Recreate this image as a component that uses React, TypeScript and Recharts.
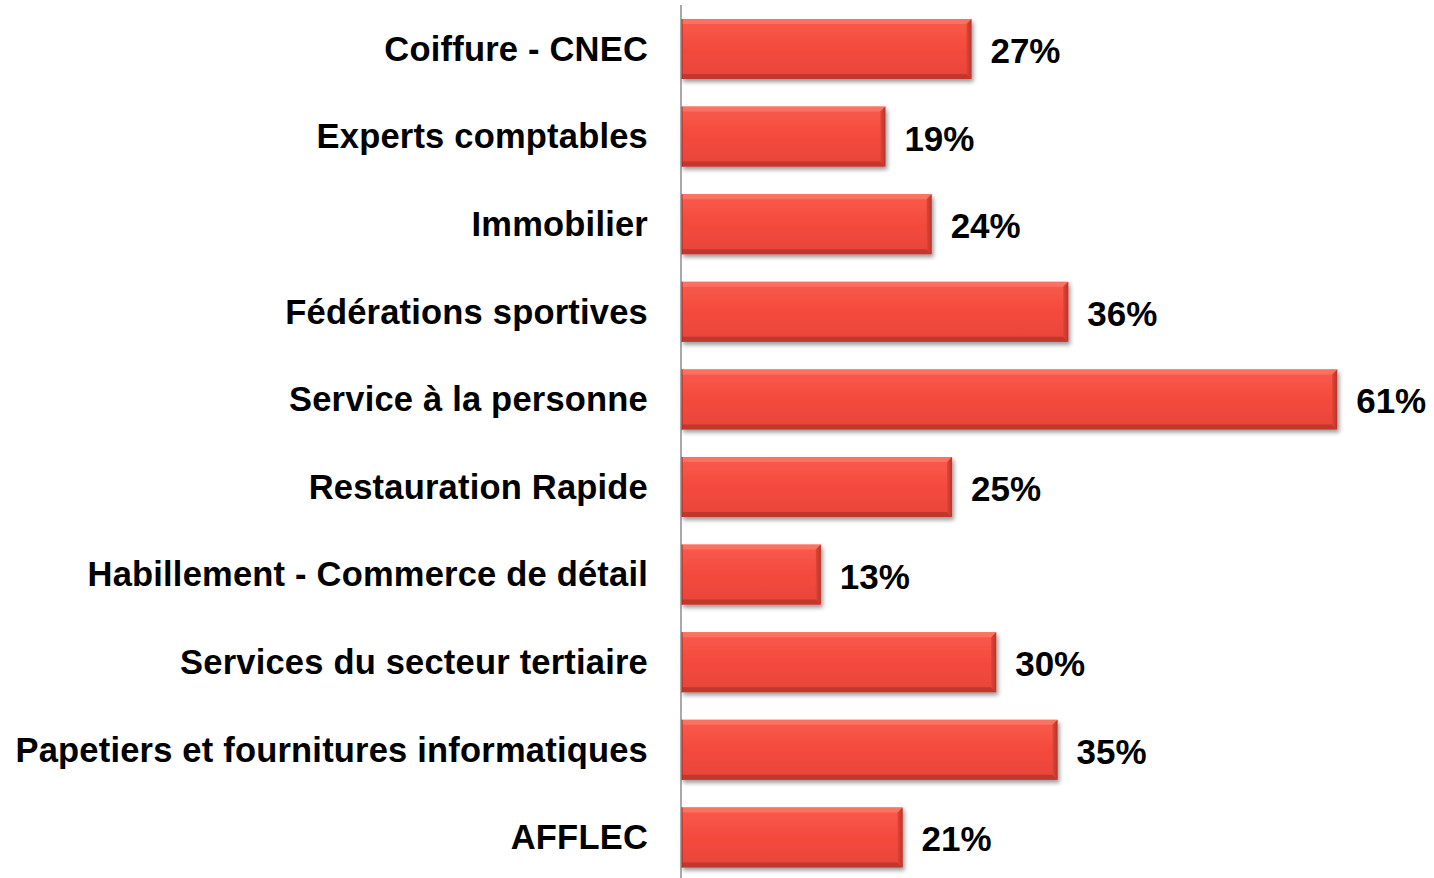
import React from "react";
import { BarChart, Bar, XAxis, YAxis, LabelList } from "recharts";

const categories = [
  "Coiffure - CNEC",
  "Experts comptables",
  "Immobilier",
  "Fédérations sportives",
  "Service à la personne",
  "Restauration Rapide",
  "Habillement - Commerce de détail",
  "Services du secteur tertiaire",
  "Papetiers et fournitures informatiques",
  "AFFLEC",
];
// bar lengths
const values = [27, 19, 23.3, 36, 61, 25.2, 13, 29.3, 35, 20.6];
// percentages printed next to the bars
const labels = ["27%", "19%", "24%", "36%", "61%", "25%", "13%", "30%", "35%", "21%"];

const data = categories.map((c, i) => ({ name: c, value: values[i], label: labels[i] }));

const FONT = "'Liberation Sans', Arial, Helvetica, sans-serif";

const BarShape = (props: any) => {
  const { x, y, width, height } = props;
  const b = 5;
  return (
    <g>
      <defs>
        <linearGradient id="barV" x1="0" y1="0" x2="0" y2="1">
          <stop offset="0" stopColor="#F85B4C" />
          <stop offset="0.5" stopColor="#F44A3D" />
          <stop offset="1" stopColor="#E8443A" />
        </linearGradient>
        <linearGradient id="barR" x1="0" y1="0" x2="1" y2="0">
          <stop offset="0" stopColor="#E04437" />
          <stop offset="1" stopColor="#B8352A" />
        </linearGradient>
        <filter id="barShadow" x="-5%" y="-20%" width="115%" height="150%">
          <feDropShadow dx="2" dy="3" stdDeviation="2.2" floodColor="#000" floodOpacity="0.4" />
        </filter>
      </defs>
      <rect x={x} y={y} width={width} height={height} fill="url(#barV)" filter="url(#barShadow)" />
      <polygon
        points={`${x},${y} ${x + width},${y} ${x + width - b},${y + b} ${x},${y + b}`}
        fill="#FB7868"
        opacity={0.8}
      />
      <polygon
        points={`${x},${y + height - b} ${x + width - b},${y + height - b} ${x + width},${y + height} ${x},${y + height}`}
        fill="#B8352A"
        opacity={0.85}
      />
      <polygon
        points={`${x + width - b},${y + b} ${x + width},${y} ${x + width},${y + height} ${x + width - b},${y + height - b}`}
        fill="url(#barR)"
      />
      <rect x={x} y={y} width={1.5} height={height} fill="#A82A22" />
    </g>
  );
};

const CatTick = (props: any) => {
  const { y, payload } = props;
  return (
    <text
      x={648}
      y={y}
      dy={12}
      textAnchor="end"
      fontFamily={FONT}
      fontWeight="bold"
      fontSize={34.5}
      fill="#000"
      letterSpacing={0.2}
    >
      {payload.value}
    </text>
  );
};

const ValueLabel = (props: any) => {
  const { x, y, width, height, value } = props;
  return (
    <text
      x={x + width + 19}
      y={y + height / 2}
      dy={14}
      textAnchor="start"
      fontFamily={FONT}
      fontWeight="bold"
      fontSize={35}
      fill="#000"
    >
      {value}
    </text>
  );
};

export default function App() {
  return (
    <div
      style={{
        position: "absolute",
        left: 0,
        top: 0,
        width: 1434,
        height: 878,
        overflow: "hidden",
        background: "#fff",
      }}
    >
      <BarChart
        width={1434}
        height={886}
        data={data}
        layout="vertical"
        margin={{ top: 5, right: 0, bottom: 5, left: 0 }}
        barSize={60}
      >
        <XAxis type="number" domain={[0, 70]} hide />
        <YAxis
          type="category"
          dataKey="name"
          width={681}
          axisLine={{ stroke: "#8C8C8C", strokeWidth: 1.5 }}
          tickLine={false}
          tick={<CatTick />}
          interval={0}
        />
        <Bar dataKey="value" shape={<BarShape />} isAnimationActive={false}>
          <LabelList dataKey="label" content={<ValueLabel />} />
        </Bar>
      </BarChart>
    </div>
  );
}
